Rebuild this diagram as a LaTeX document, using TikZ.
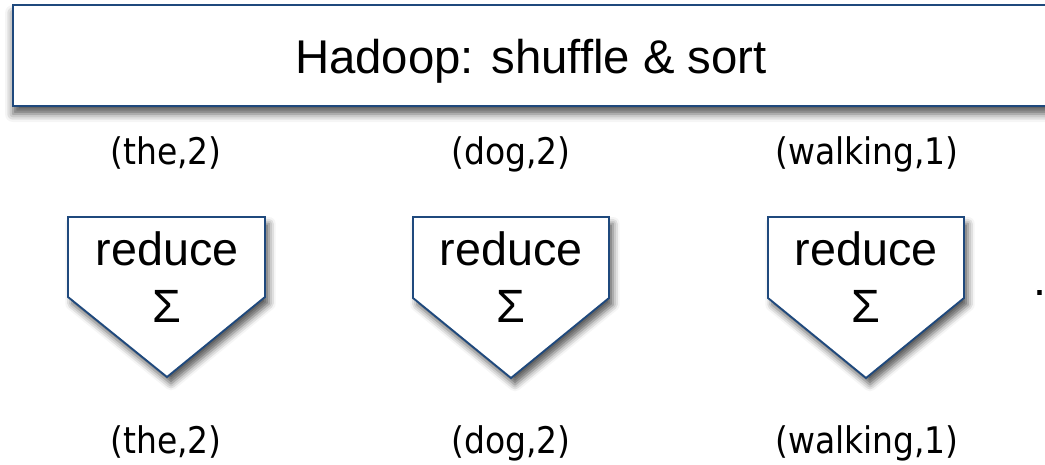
\documentclass[tikz,border=0pt]{standalone}
\usepackage{fontspec}
\setmainfont{Liberation Sans}
\newfontfamily\pairfont{DejaVu Sans Condensed}
\usetikzlibrary{shadows.blur}
\definecolor{boxblue}{RGB}{31,73,125}

\begin{document}
\begin{tikzpicture}
[x=0.75pt, y=-0.75pt,
 box/.style={draw=boxblue, line width=1.7pt, fill=white, blur shadow={shadow xshift=0pt, shadow yshift=-6pt, shadow blur radius=6pt, shadow opacity=65}},
 pent/.style={draw=boxblue, line width=1.4pt, fill=white, line join=miter, blur shadow={shadow xshift=3pt, shadow yshift=-5pt, shadow blur radius=5pt, shadow opacity=65}},
 title/.style={anchor=base, inner sep=0, font=\fontsize{35.5}{42}\selectfont},
 redtext/.style={anchor=base, inner sep=0, font=\fontsize{35}{42}\selectfont},
 pair/.style={anchor=base, inner sep=0, font=\pairfont\fontsize{27.5}{32}\selectfont}]
\useasboundingbox (0, 0) rectangle (1045, 464);
\draw [box] (13, 5) rectangle (1075, 106);
\node (shuffle) [title] at (531, 73) {Hadoop: shuffle \& sort};
% pairs coming out of the shuffle
\node (in1) [pair] at (166, 164) {(the,2)};
\node (in2) [pair] at (511, 164) {(dog,2)};
\node (in3) [pair] at (867, 164) {(walking,1)};
% reducers
\draw [pent] (68, 217) -- (265, 217) -- (265, 297) -- (167, 377) -- (68, 297) -- cycle;
\draw [pent] (413, 217) -- (609, 217) -- (609, 298) -- (511, 378) -- (413, 298) -- cycle;
\draw [pent] (768, 217) -- (964, 217) -- (964, 298) -- (866, 378) -- (768, 298) -- cycle;
\node (red1) [redtext] at (167, 265) {reduce};
\node (red2) [redtext] at (511, 265) {reduce};
\node (red3) [redtext] at (866, 265) {reduce};
\node (sum1) [redtext] at (167, 322) {Σ};
\node (sum2) [redtext] at (511, 322) {Σ};
\node (sum3) [redtext] at (866, 322) {Σ};
\node (more) [redtext, anchor=base west] at (1033, 295) {...};
% results
\node (out1) [pair] at (166, 453) {(the,2)};
\node (out2) [pair] at (511, 453) {(dog,2)};
\node (out3) [pair] at (867, 453) {(walking,1)};
\end{tikzpicture}
\end{document}
